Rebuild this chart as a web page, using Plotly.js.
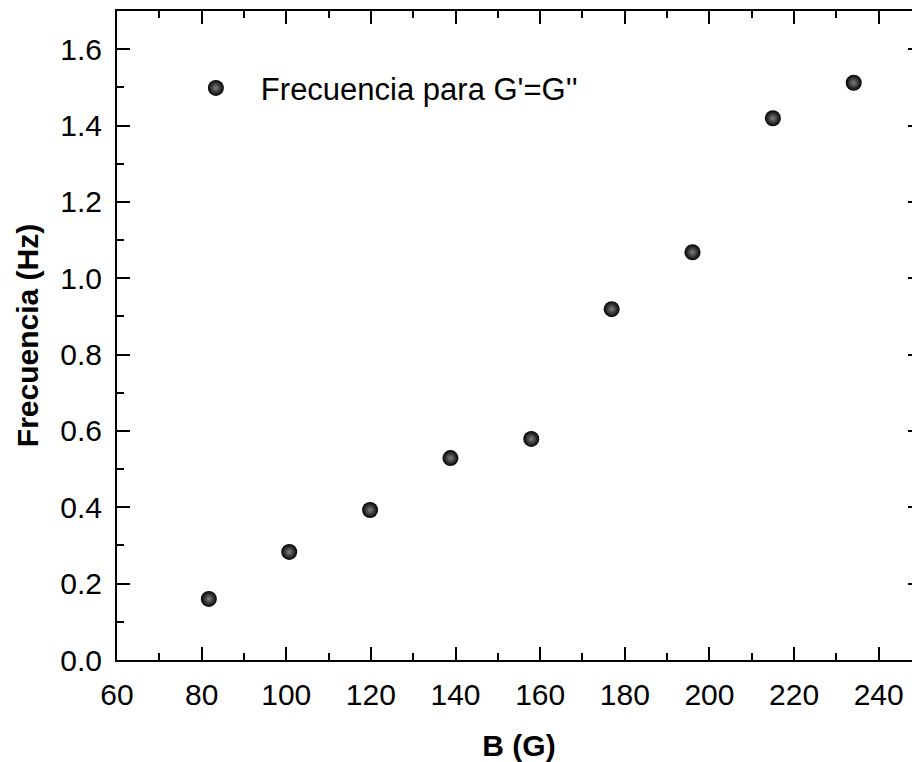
<!DOCTYPE html>
<html>
<head>
<meta charset="utf-8">
<script src="https://cdn.plot.ly/plotly-3.0.1.min.js"></script>
<style>
html, body { margin:0; padding:0; overflow:hidden; background:#fff; }
#chart { width:930px; height:762px; }
</style>
</head>
<body>
<div id="chart"></div>
<script>
// Data
const fieldB = [81.7, 100.7, 119.8, 138.8, 157.9, 176.9, 196.0, 215.0, 234.1];
const frequency = [0.160, 0.283, 0.393, 0.529, 0.579, 0.919, 1.068, 1.419, 1.512];
const seriesName = "Frecuencia para G'=G''";
const xTitle = "B (G)";
const yTitle = "Frecuencia (Hz)";

const FONT = "'Liberation Sans', Arial, sans-serif";

const trace = {
  x: fieldB,
  y: frequency,
  type: 'scatter',
  mode: 'markers',
  name: seriesName,
  marker: {
    size: 16,
    color: '#000000',
    gradient: { type: 'radial', color: '#808080' },
    line: { width: 0 }
  }
};

const axisCommon = {
  showline: true,
  linecolor: '#000',
  linewidth: 2,
  mirror: 'ticks',
  ticks: 'inside',
  ticklen: 13,
  tickwidth: 2,
  tickcolor: '#000',
  showgrid: false,
  zeroline: false,
  tickfont: { family: FONT, size: 30, color: '#000' }
};

const layout = {
  width: 930,
  height: 762,
  margin: { l: 117, r: 9, t: 11, b: 102 },
  paper_bgcolor: '#fff',
  plot_bgcolor: '#fff',
  showlegend: true,
  legend: {
    x: 0.067, y: 0.881, xanchor: 'left', yanchor: 'middle',
    bgcolor: 'rgba(0,0,0,0)',
    font: { family: FONT, size: 31, color: '#000' },
    itemwidth: 80
  },
  xaxis: Object.assign({}, axisCommon, {
    range: [60, 250],
    tick0: 60, dtick: 20,
    ticklabelstandoff: 7,
    minor: { dtick: 10, tick0: 60, ticks: 'inside', ticklen: 7, tickwidth: 2, tickcolor: '#000' },
    title: { text: xTitle, font: { family: FONT, size: 30, color: '#000', weight: 'bold' }, standoff: 28 }
  }),
  yaxis: Object.assign({}, axisCommon, {
    range: [0, 1.7],
    tick0: 0, dtick: 0.2,
    tickformat: '.1f',
    ticklabelstandoff: 7,
    minor: { dtick: 0.1, tick0: 0, ticks: 'inside', ticklen: 7, tickwidth: 2, tickcolor: '#000' },
    title: { text: yTitle, font: { family: FONT, size: 30, color: '#000', weight: 'bold' }, standoff: 13 }
  })
};

Plotly.newPlot('chart', [trace], layout, { displayModeBar: false, staticPlot: true });
</script>
</body>
</html>
